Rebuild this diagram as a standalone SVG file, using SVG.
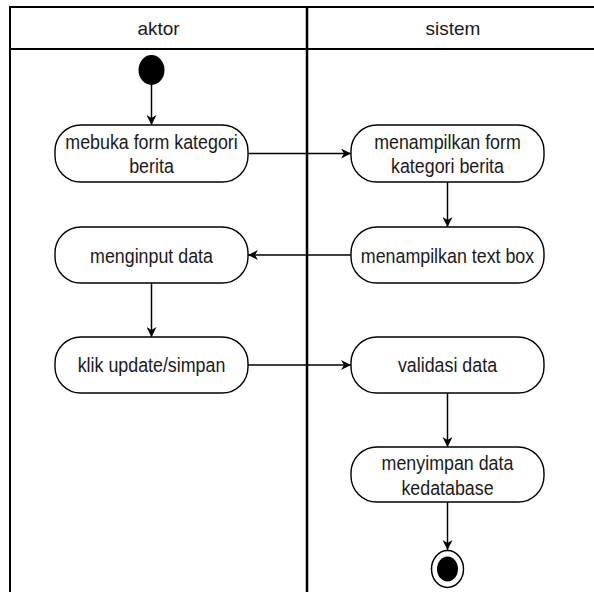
<svg xmlns="http://www.w3.org/2000/svg" width="594" height="592" viewBox="0 0 594 592">
<defs>
<style>
.lane{fill:none;stroke:#000;stroke-width:2}
.div{fill:none;stroke:#000;stroke-width:2.5}
.node{fill:#fff;stroke:#000;stroke-width:1.4}
.t{font-family:"Liberation Sans",Arial,sans-serif;font-size:20.5px;fill:#1a1a1a;text-anchor:middle}
.h{font-family:"Liberation Sans",Arial,sans-serif;font-size:19px;fill:#1a1a1a;text-anchor:middle}
.c{fill:none;stroke:#000;stroke-width:1.5}
</style>
<marker id="arr" viewBox="0 0 10 10" refX="10" refY="5" markerWidth="10" markerHeight="10" markerUnits="userSpaceOnUse" orient="auto">
<path d="M0,0 L10,5 L0,10 L3,5 Z" fill="#000"/>
</marker>
</defs>
<rect width="594" height="592" fill="#fff"/>
<g id="pool">
<path class="lane" d="M610,7 L10,7 L10,600"/>
<path class="lane" d="M10,49 L610,49"/>
<path class="div" d="M307,7 L307,600"/>
<text class="h" x="158.5" y="35">aktor</text>
<text class="h" x="453" y="35">sistem</text>
</g>
<g id="connectors">
<path class="c" d="M151.5,84 L151.5,125" marker-end="url(#arr)"/>
<path class="c" d="M248,153.5 L351,153.5" marker-end="url(#arr)"/>
<path class="c" d="M447.5,182 L447.5,227" marker-end="url(#arr)"/>
<path class="c" d="M351,255 L248,255" marker-end="url(#arr)"/>
<path class="c" d="M151.5,283 L151.5,337" marker-end="url(#arr)"/>
<path class="c" d="M248,365 L351,365" marker-end="url(#arr)"/>
<path class="c" d="M447.5,393 L447.5,447" marker-end="url(#arr)"/>
<path class="c" d="M447.5,502 L447.5,550" marker-end="url(#arr)"/>
</g>
<g id="start"><ellipse cx="151.5" cy="70" rx="13" ry="15" fill="#000"/></g>
<g id="n1"><rect class="node" x="55" y="125" width="193" height="57" rx="26" ry="26"/>
<text class="t" transform="translate(151.5,149) scale(0.87,1)">mebuka form kategori</text><text class="t" transform="translate(151.5,173) scale(0.87,1)">berita</text></g>
<g id="n2"><rect class="node" x="351" y="125" width="193" height="57" rx="26" ry="26"/>
<text class="t" transform="translate(447.5,149) scale(0.87,1)">menampilkan form</text><text class="t" transform="translate(447.5,173) scale(0.87,1)">kategori berita</text></g>
<g id="n3"><rect class="node" x="351" y="227" width="193" height="56" rx="26" ry="26"/>
<text class="t" transform="translate(447.5,263) scale(0.87,1)">menampilkan text box</text></g>
<g id="n4"><rect class="node" x="55" y="227" width="193" height="56" rx="26" ry="26"/>
<text class="t" transform="translate(151.5,263) scale(0.87,1)">menginput data</text></g>
<g id="n5"><rect class="node" x="55" y="337" width="193" height="56" rx="26" ry="26"/>
<text class="t" transform="translate(151.5,372) scale(0.87,1)">klik update/simpan</text></g>
<g id="n6"><rect class="node" x="351" y="337" width="193" height="56" rx="26" ry="26"/>
<text class="t" transform="translate(447.5,372) scale(0.87,1)">validasi data</text></g>
<g id="n7"><rect class="node" x="351" y="447" width="193" height="55" rx="26" ry="26"/>
<text class="t" transform="translate(447.5,470) scale(0.87,1)">menyimpan data</text><text class="t" transform="translate(447.5,495) scale(0.87,1)">kedatabase</text></g>
<g id="end"><ellipse cx="447.5" cy="569" rx="16" ry="18.5" fill="#fff" stroke="#000" stroke-width="1.5"/>
<ellipse cx="447.5" cy="569" rx="10.5" ry="12.5" fill="#000"/></g>
</svg>
